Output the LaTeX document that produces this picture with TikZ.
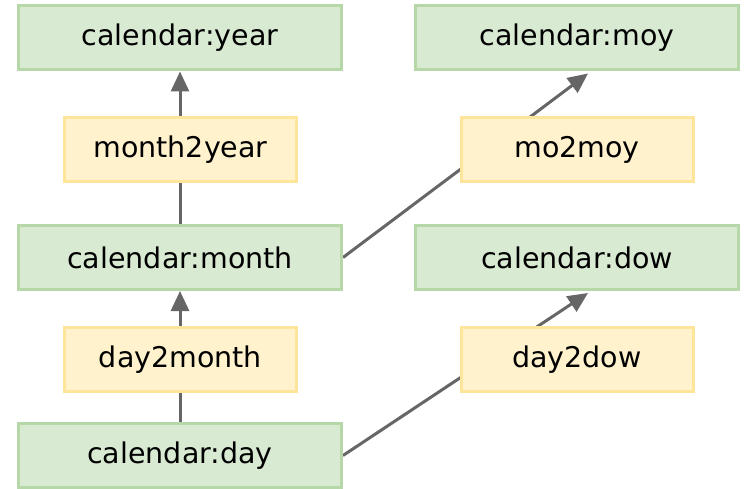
\documentclass[tikz,border=0pt]{standalone}
\usepackage{fontspec}
\setmainfont{DejaVu Sans}
\usetikzlibrary{positioning,calc,arrows.meta,backgrounds}
\definecolor{calGreenLine}{HTML}{B6D7A8}
\definecolor{calGreenBg}{HTML}{D9EAD3}
\definecolor{calYellowLine}{HTML}{FFE599}
\definecolor{calYellowBg}{HTML}{FFF2CC}
\definecolor{calGreyLine}{HTML}{666666}
\tikzset{
  cal box/.style={
    rectangle, line width=3pt,
    fill=calGreenBg, draw=calGreenLine,
    minimum width=323pt, minimum height=64pt,
    inner sep=0pt, font=\fontsize{28.5}{32}\selectfont,
  },
  map box/.style={
    cal box, fill=calYellowBg, draw=calYellowLine,
    minimum width=232pt,
  },
  map edge/.style={
    draw=calGreyLine, line width=3pt,
    -{Triangle[length=20pt,width=18pt]},
  },
}
\begin{document}
\begin{tikzpicture}[x=1pt,y=-1pt]
\useasboundingbox (0,0) rectangle (744,489);

%% calendar levels ===================================================
\node[cal box] (year)  at (180, 38)    {calendar:year};
\node[cal box] (month) at (180, 257.5) {calendar:month};
\node[cal box] (day)   at (180, 455.5) {calendar:day};
\node[cal box] (moy)   at (577, 38)    {calendar:moy};
\node[cal box] (dow)   at (577, 257.5) {calendar:dow};

%% mappings ==========================================================
\node[map box] (month2year) at (180.5, 149.5) {month2year};
\node[map box] (day2month)  at (180.5, 359.5) {day2month};
\node[map box] (mo2moy)     at (577, 149.5)   {mo2moy};
\node[map box] (day2dow)    at (577, 359.5)   {day2dow};

%% edges behind the mapping boxes
\begin{scope}[on background layer]
  \draw[map edge] (month.north) -- (year.south);
  \draw[map edge] (day.north) -- (month.south);
  \draw[map edge] (month.east) -- ($(moy.south)+(11,2)$);
  \draw[map edge] (day.east) -- ($(dow.south)+(11,2)$);
\end{scope}

\end{tikzpicture}
\end{document}
